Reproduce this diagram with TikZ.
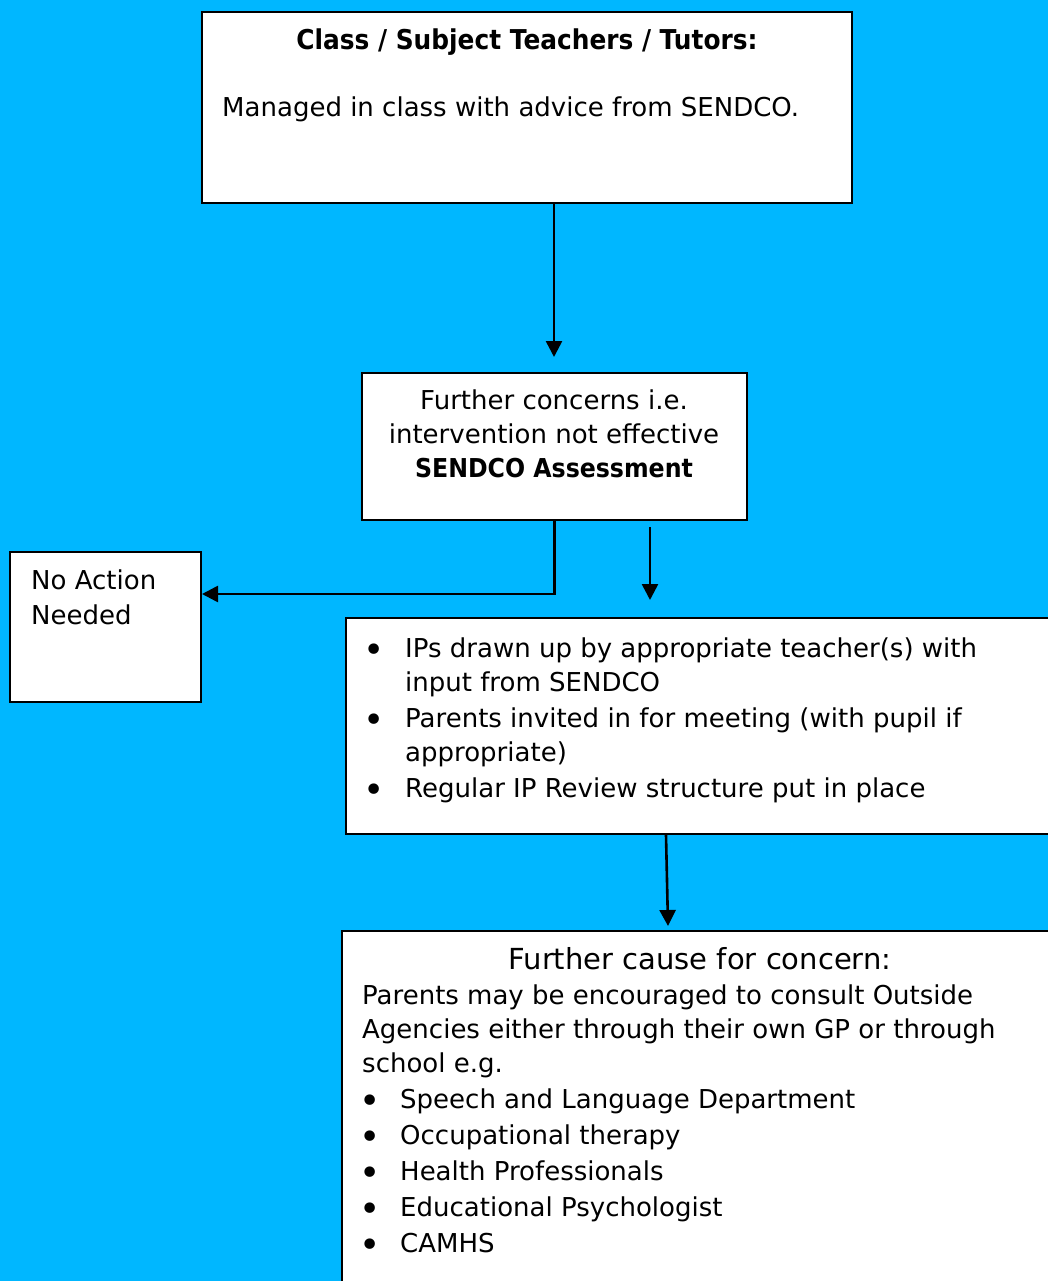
\documentclass[tikz,border=0pt]{standalone}
\usepackage{fontspec}
\setmainfont{DejaVu Sans}[BoldFeatures={FakeStretch=0.91}]
\usetikzlibrary{arrows.meta}
\definecolor{bg}{RGB}{0,183,255}
\begin{document}
\begin{tikzpicture}[x=1pt,y=-1pt,
  box/.style={draw=black, line width=1.6pt, fill=white, inner sep=0pt, outer sep=0pt, anchor=north west},
  conn/.style={line width=2.6pt, -{Triangle[length=16pt,width=16pt]}},
  txt/.style={inner sep=0pt, anchor=base west, font=\fontsize{26}{34}\selectfont},
  ctxt/.style={inner sep=0pt, anchor=base, font=\fontsize{26}{34}\selectfont},
  bul/.style={inner sep=0pt, anchor=base, font=\fontsize{36}{34}\selectfont},
]
\fill[bg] (0,0) rectangle (1048,1281);
\useasboundingbox (0,0) rectangle (1048,1281);
\clip (0,0) rectangle (1048,1281);

% boxes
\node[box, minimum width=650pt, minimum height=191pt] (b1) at (202,12) {};
\node[box, minimum width=385pt, minimum height=147pt] (b2) at (362,373) {};
\node[box, minimum width=191pt, minimum height=150pt] (b3) at (10,552) {};
\node[box, minimum width=730pt, minimum height=216pt] (b4) at (346,618) {};
\node[box, minimum width=730pt, minimum height=400pt] (b5) at (342,931) {};

% box 1 text
\node[ctxt, font=\fontsize{27.3}{34}\selectfont\bfseries] (t1a) at (527,50) {Class / Subject Teachers / Tutors:};
\node[txt] (t1b) at (222,117) {Managed in class with advice from SENDCO.};

% box 2 text
\node[ctxt] (t2a) at (554,409) {Further concerns i.e.};
\node[ctxt] (t2b) at (554,443) {intervention not effective};
\node[ctxt, font=\fontsize{26}{34}\selectfont\bfseries] (t2c) at (554,477) {SENDCO Assessment};

% box 3 text
\node[txt] (t3a) at (31,589) {No Action};
\node[txt] (t3b) at (31,624) {Needed};

% box 4 text
\node[bul] (u41) at (374,662) {•};
\node[txt] (t41) at (405,657) {IPs drawn up by appropriate teacher(s) with};
\node[txt] (t42) at (405,691) {input from SENDCO};
\node[bul] (u42) at (374,732) {•};
\node[txt] (t43) at (405,727) {Parents invited in for meeting (with pupil if};
\node[txt] (t44) at (405,761) {appropriate)};
\node[bul] (u43) at (374,802) {•};
\node[txt] (t45) at (405,797) {Regular IP Review structure put in place};

% box 5 text
\node[ctxt, font=\fontsize{29}{34}\selectfont] (t5t) at (700,969) {Further cause for concern:};
\node[txt] (t51) at (362,1004) {Parents may be encouraged to consult Outside};
\node[txt] (t52) at (362,1038) {Agencies either through their own GP or through};
\node[txt] (t53) at (362,1072) {school e.g.};
\node[bul] (u51) at (370,1113) {•};
\node[txt] (t54) at (400,1108) {Speech and Language Department};
\node[bul] (u52) at (370,1149) {•};
\node[txt] (t55) at (400,1144) {Occupational therapy};
\node[bul] (u53) at (370,1185) {•};
\node[txt] (t56) at (400,1180) {Health Professionals};
\node[bul] (u54) at (370,1221) {•};
\node[txt] (t57) at (400,1216) {Educational Psychologist};
\node[bul] (u55) at (370,1257) {•};
\node[txt] (t58) at (400,1252) {CAMHS};

% connectors
\coordinate (e1) at (554,357);
\draw[conn] (b1.south -| e1) -- (e1);
\coordinate (na) at (202,594);
\draw[conn] (b2.south) |- (na);
\coordinate (s2) at (650,527);
\coordinate (e2) at (650,600);
\draw[conn] (s2) -- (e2);
\coordinate (s3) at (666,835);
\coordinate (e3) at (668,926);
\draw[conn] (s3) -- (e3);
\end{tikzpicture}
\end{document}
